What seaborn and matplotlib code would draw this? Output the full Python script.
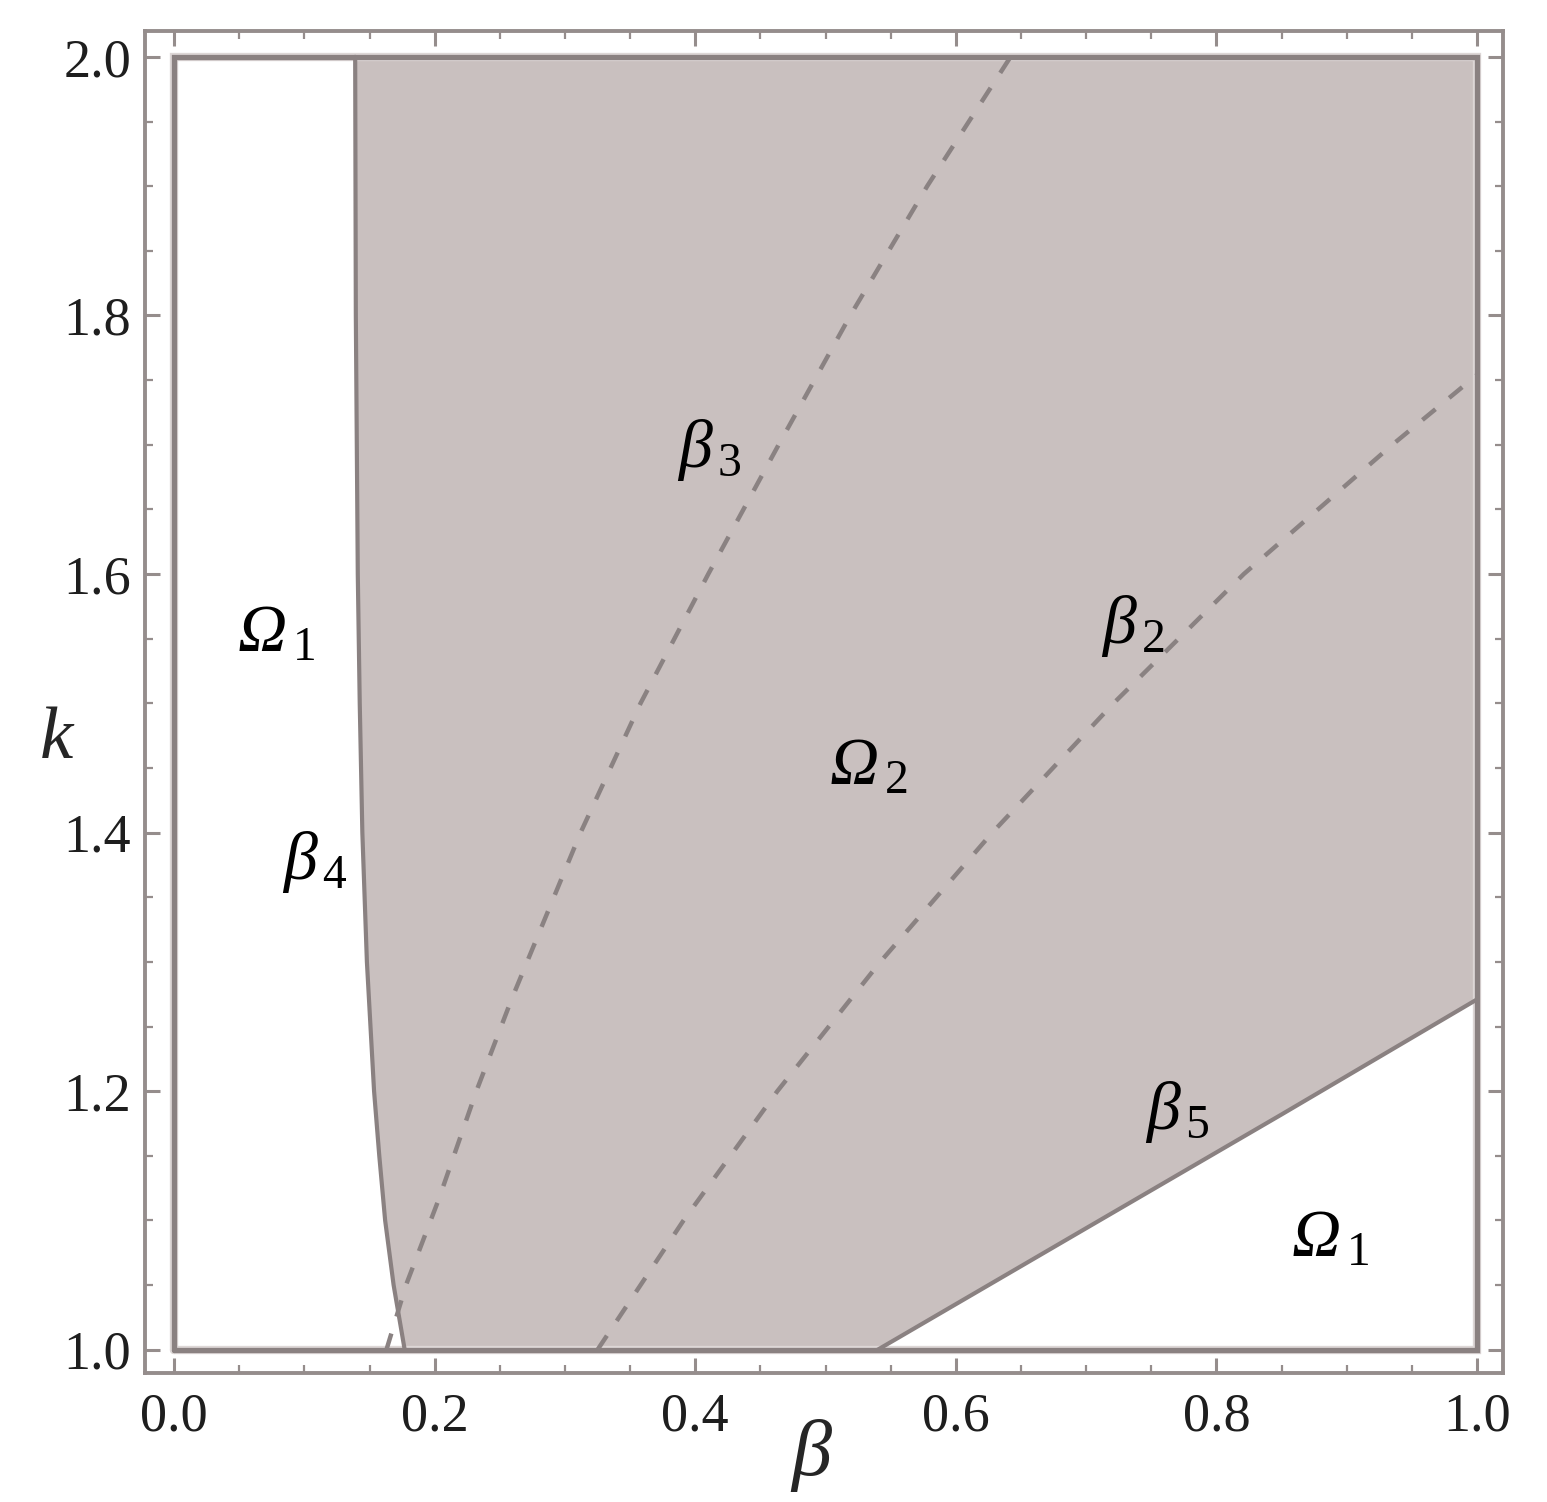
import numpy as np
import pandas as pd
import matplotlib
matplotlib.use("Agg")
import matplotlib.pyplot as plt
import seaborn as sns

# ---- data ----
beta4_k = [2.0, 1.8, 1.6, 1.5, 1.4, 1.3, 1.2, 1.15, 1.1, 1.05, 1.0]
beta4_b = [0.139, 0.1395, 0.141, 0.1425, 0.1445, 0.148, 0.1535, 0.1575, 0.162, 0.1685, 0.177]

beta5_b = [0.540, 0.70, 0.85, 1.0]
beta5_k = [1.0, 1.094, 1.182, 1.271]

beta3_b = [0.163, 0.178, 0.203, 0.232, 0.259, 0.312, 0.358, 0.410, 0.464, 0.519, 0.578, 0.642]
beta3_k = [1.0, 1.05, 1.116, 1.2, 1.271, 1.4, 1.5, 1.6, 1.7, 1.8, 1.9, 2.0]

beta2_b = [0.325, 0.391, 0.463, 0.542, 0.628, 0.721, 0.821, 0.935, 1.0]
beta2_k = [1.0, 1.1, 1.2, 1.3, 1.4, 1.5, 1.6, 1.7, 1.754]

xticks = [0.0, 0.2, 0.4, 0.6, 0.8, 1.0]
yticks = [1.0, 1.2, 1.4, 1.6, 1.8, 2.0]
xticklabels = ["0.0", "0.2", "0.4", "0.6", "0.8", "1.0"]
yticklabels = ["1.0", "1.2", "1.4", "1.6", "1.8", "2.0"]

labels = [(r"$\Omega_{\,\mathsf{1}}$", 0.078, 1.553),
          (r"$\Omega_{\,\mathsf{1}}$", 0.887, 1.085),
          (r"$\Omega_{\,\mathsf{2}}$", 0.533, 1.45),
          (r"$\beta_{\,\mathsf{3}}$", 0.411, 1.696),
          (r"$\beta_{\,\mathsf{2}}$", 0.736, 1.56),
          (r"$\beta_{\,\mathsf{4}}$", 0.108, 1.377),
          (r"$\beta_{\,\mathsf{5}}$", 0.77, 1.184)]

# ---- styling ----
sns.set_theme(style="white")
plt.rcParams["font.family"] = ["Liberation Serif", "DejaVu Serif"]
plt.rcParams["mathtext.fontset"] = "custom"
plt.rcParams["mathtext.rm"] = "Liberation Serif:italic"
plt.rcParams["mathtext.it"] = "Liberation Serif:italic"
plt.rcParams["mathtext.sf"] = "Liberation Serif"
plt.rcParams["mathtext.bf"] = "Liberation Serif:bold"

line_col = "#8a8181"
fill_col = "#c9c0bf"
frame_col = "#958d8c"

fig = plt.figure(figsize=(15.47, 15.02), dpi=100)
ax = fig.add_axes([145/1547, 1 - 1373/1502, (1503-145)/1547, (1373-31)/1502])

# shaded region Omega_2
poly_b = list(beta4_b) + list(beta5_b) + [1.0, 1.0]
poly_k = list(beta4_k) + list(beta5_k) + [2.0, 2.0]
ax.fill(poly_b, poly_k, color=fill_col, lw=0, zorder=1)

# boundary box of the plot region
box_b = [0, 1, 1, 0, 0]
box_k = [1, 1, 2, 2, 1]
ax.plot(box_b, box_k, color="#ddd7d6", lw=6.0, zorder=2, solid_joinstyle="miter")
ax.plot(box_b, box_k, color=line_col, lw=3.8, zorder=3, solid_joinstyle="miter")

# solid boundaries
df4 = pd.DataFrame({"b": beta4_b, "k": beta4_k})
df5 = pd.DataFrame({"b": beta5_b, "k": beta5_k})
sns.lineplot(data=df4, x="b", y="k", sort=False, estimator=None, color=line_col, lw=3.0, ax=ax, zorder=4)
sns.lineplot(data=df5, x="b", y="k", sort=False, estimator=None, color=line_col, lw=3.0, ax=ax, zorder=4)

# dashed curves
df3 = pd.DataFrame({"b": beta3_b, "k": beta3_k})
df2 = pd.DataFrame({"b": beta2_b, "k": beta2_k})
for d in (df3, df2):
    sns.lineplot(data=d, x="b", y="k", sort=False, estimator=None, color="#8a8282",
                 lw=3.2, ax=ax, zorder=4, linestyle=(0, (3.8, 4.0)))

# region labels
for txt, bx, ky in labels:
    ax.text(bx, ky, txt, fontsize=49, color="black", ha="center", va="center", zorder=6)

ax.set_xlim(-0.0223, 1.0199)
ax.set_ylim(0.982, 2.020)
ax.set_xticks(xticks)
ax.set_xticklabels(xticklabels)
ax.set_yticks(yticks)
ax.set_yticklabels(yticklabels)
ax.set_xticks(np.arange(0, 1.0001, 0.05), minor=True)
ax.set_yticks(np.arange(1, 2.0001, 0.05), minor=True)
ax.tick_params(which="both", direction="in", top=True, right=True, bottom=True, left=True,
               color=frame_col)
ax.tick_params(which="major", length=11, width=2.2, labelsize=39, labelcolor="#1e1e1e")
ax.tick_params(axis="x", which="major", pad=14)
ax.tick_params(axis="y", which="major", pad=10)
ax.tick_params(which="minor", length=6, width=1.6)
for s in ax.spines.values():
    s.set_color(frame_col)
    s.set_linewidth(2.8)

ax.set_xlabel(r"$\beta$", fontsize=58, labelpad=0)
ax.set_ylabel(r"$k$", fontsize=54, rotation=0, labelpad=40)
ax.xaxis.set_label_coords((812-145)/(1503-145), -(1455-1373)/(1373-31))
ax.yaxis.set_label_coords(-(145-57)/(1503-145), (1373-740)/(1373-31))
ax.xaxis.label.set_verticalalignment("center")
ax.yaxis.label.set_verticalalignment("center")
ax.grid(False)

fig.savefig("out.png", dpi=100, facecolor="white")
